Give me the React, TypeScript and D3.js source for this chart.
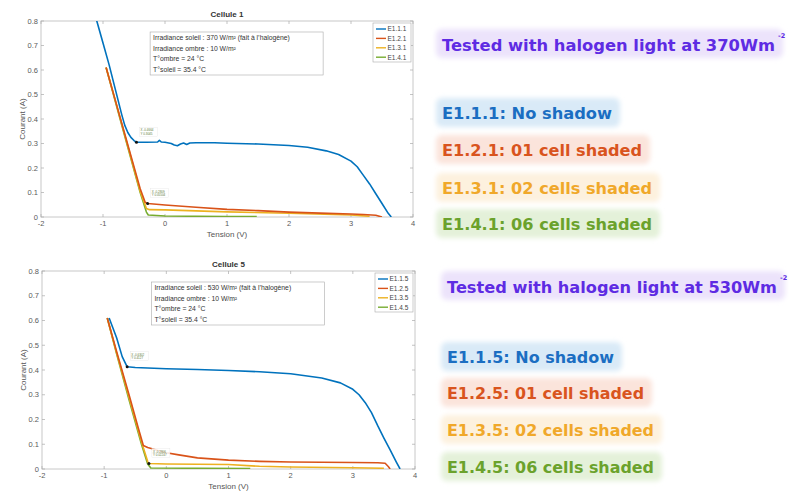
import React from 'react';
import * as d3 from 'd3';

// ---------- data ----------
const xTicks = [-2, -1, 0, 1, 2, 3, 4];
const yTicks = [0, 0.1, 0.2, 0.3, 0.4, 0.5, 0.6, 0.7, 0.8];

// Cellule 1
const c1BlueV = [-1.15, -1.1, -1.0, -0.9, -0.8, -0.7, -0.65, -0.6, -0.55, -0.5, -0.46, -0.3, -0.12, -0.09, -0.06, 0.0, 0.1, 0.15, 0.2, 0.25, 0.3, 0.35, 0.4, 0.5, 0.8, 1.0, 1.5, 2.0, 2.3, 2.6, 2.8, 3.0, 3.1, 3.2, 3.3, 3.4, 3.5, 3.6, 3.65];
const c1BlueI = [0.86, 0.8, 0.71, 0.62, 0.52, 0.42, 0.375, 0.345, 0.325, 0.312, 0.305, 0.305, 0.306, 0.313, 0.306, 0.305, 0.3, 0.294, 0.291, 0.298, 0.302, 0.296, 0.302, 0.303, 0.303, 0.301, 0.298, 0.292, 0.285, 0.27, 0.255, 0.228, 0.205, 0.17, 0.135, 0.095, 0.055, 0.015, 0.0];
const c1OrangeV = [-0.95, -0.8, -0.6, -0.4, -0.32, -0.28, 0.0, 0.5, 1.0, 1.5, 2.0, 2.5, 3.0, 3.2, 3.4, 3.5];
const c1OrangeI = [0.61, 0.475, 0.295, 0.115, 0.06, 0.055, 0.049, 0.04, 0.031, 0.026, 0.02, 0.016, 0.012, 0.01, 0.007, 0.0];
const c1YellowV = [-0.95, -0.8, -0.6, -0.4, -0.3, -0.25, 0.0, 1.0, 2.0, 3.0, 3.3];
const c1YellowI = [0.61, 0.475, 0.29, 0.105, 0.035, 0.03, 0.029, 0.021, 0.015, 0.008, 0.003];
const c1GreenV = [-0.95, -0.8, -0.6, -0.4, -0.3, -0.27, 0.0, 1.0, 1.48];
const c1GreenI = [0.61, 0.47, 0.285, 0.1, 0.02, 0.008, 0.004, 0.002, 0.002];

// Cellule 5
const c5BlueV = [-0.92, -0.8, -0.71, -0.63, -0.5, 0.0, 0.5, 1.0, 1.5, 2.0, 2.5, 2.8, 3.0, 3.1, 3.2, 3.3, 3.4, 3.5, 3.6, 3.7, 3.76];
const c5BlueI = [0.61, 0.53, 0.454, 0.413, 0.41, 0.405, 0.402, 0.398, 0.393, 0.385, 0.368, 0.348, 0.322, 0.3, 0.268, 0.228, 0.175, 0.125, 0.077, 0.028, 0.0];
const c5OrangeV = [-0.95, -0.8, -0.6, -0.45, -0.37, -0.3, -0.2, -0.1, 0.0, 0.2, 0.5, 1.0, 1.5, 2.0, 2.5, 3.0, 3.4, 3.52, 3.57, 3.6];
const c5OrangeI = [0.61, 0.475, 0.3, 0.165, 0.095, 0.087, 0.08, 0.072, 0.066, 0.057, 0.045, 0.036, 0.031, 0.028, 0.027, 0.026, 0.025, 0.023, 0.01, 0.0];
const c5YellowV = [-0.95, -0.8, -0.6, -0.4, -0.3, -0.28, 0.0, 1.0, 1.5, 2.0, 3.0, 3.5];
const c5YellowI = [0.61, 0.47, 0.29, 0.11, 0.03, 0.022, 0.02, 0.018, 0.011, 0.008, 0.005, 0.003];
const c5GreenV = [-0.95, -0.8, -0.6, -0.4, -0.3, -0.25, 0.5, 1.35];
const c5GreenI = [0.61, 0.465, 0.28, 0.1, 0.02, 0.004, 0.003, 0.002];

const legend1 = ['E1.1.1', 'E1.2.1', 'E1.3.1', 'E1.4.1'];
const legend5 = ['E1.1.5', 'E1.2.5', 'E1.3.5', 'E1.4.5'];
const info1 = ['Irradiance soleil : 370 W/m²  (fait à l\u2019halogène)', 'Irradiance ombre : 10 W/m²', 'T°ombre = 24 °C', 'T°soleil = 35.4 °C'];
const info5 = ['Irradiance soleil : 530 W/m²  (fait à l\u2019halogène)', 'Irradiance ombre : 10 W/m²', 'T°ombre = 24 °C', 'T°soleil = 35.4 °C'];
const tips1 = [{ v: -0.46, i: 0.305, t: ['X -0.4664', 'Y 0.3045'] }, { v: -0.28, i: 0.055, t: ['X -0.2809', 'Y 0.05504'] }];
const tips5 = [{ v: -0.63, i: 0.413, t: ['X -0.6302', 'Y 0.4127'] }, { v: -0.28, i: 0.022, t: ['X -0.2806', 'Y 0.02247'] }];

const notes1Title = 'Tested with halogen light at 370Wm';
const notes5Title = 'Tested with halogen light at 530Wm';
const notes1 = ['E1.1.1: No shadow', 'E1.2.1: 01 cell shaded', 'E1.3.1: 02 cells shaded', 'E1.4.1: 06 cells shaded'];
const notes5 = ['E1.1.5: No shadow', 'E1.2.5: 01 cell shaded', 'E1.3.5: 02 cells shaded', 'E1.4.5: 06 cells shaded'];

const lineColors = ['#0072BD', '#D95319', '#EDB120', '#77AC30'];
const noteColors = ['#1b6ec2', '#d9541e', '#f0a82a', '#6ba22c'];
const noteBg = ['#d9eaf7', '#fbe4db', '#fdf1de', '#e4f1d9'];

const axisFont = "'Liberation Sans', Arial, Helvetica, sans-serif";
const noteFont = "'DejaVu Sans', Verdana, sans-serif";

type Series = { v: number[]; i: number[] };

function Panel(props: {
  x0: number; x1: number; yTop: number; yBot: number;
  title: string; series: Series[]; legend: string[]; info: string[];
  tips: { v: number; i: number; t: string[] }[];
  clipId: string;
}) {
  const { x0, x1, yTop, yBot, title, series, legend, info, tips, clipId } = props;
  const x = d3.scaleLinear().domain([-2, 4]).range([x0, x1]);
  const y = d3.scaleLinear().domain([0, 0.8]).range([yBot, yTop]);
  const line = d3.line<[number, number]>().x(d => x(d[0])).y(d => y(d[1]));
  const cx = (x0 + x1) / 2;
  const boxX = x(-0.24);
  const boxY = yTop + 11;
  const legX = x1 - 40;
  return (
    <g>
      <defs>
        <clipPath id={clipId}><rect x={x0} y={yTop} width={x1 - x0} height={yBot - yTop} /></clipPath>
      </defs>
      <rect x={x0} y={yTop} width={x1 - x0} height={yBot - yTop} fill="#fff" stroke="#c8c8c8" strokeWidth={1} />
      {xTicks.map(t => (
        <g key={'x' + t}>
          <line x1={x(t)} x2={x(t)} y1={yBot} y2={yBot - 3} stroke="#aaa" strokeWidth={0.7} />
          <line x1={x(t)} x2={x(t)} y1={yTop} y2={yTop + 3} stroke="#aaa" strokeWidth={0.7} />
          <text x={x(t)} y={yBot + 9} fontSize={7.5} fontFamily={axisFont} fill="#5a5a5a" textAnchor="middle">{t}</text>
        </g>
      ))}
      {yTicks.map(t => (
        <g key={'y' + t}>
          <line x1={x0} x2={x0 + 3} y1={y(t)} y2={y(t)} stroke="#aaa" strokeWidth={0.7} />
          <line x1={x1} x2={x1 - 3} y1={y(t)} y2={y(t)} stroke="#aaa" strokeWidth={0.7} />
          <text x={x0 - 3} y={y(t) + 2.6} fontSize={7.5} fontFamily={axisFont} fill="#5a5a5a" textAnchor="end">{t === 0 ? '0' : t.toFixed(1)}</text>
        </g>
      ))}
      <text x={cx} y={yTop - 4} fontSize={8} fontWeight="bold" fontFamily={axisFont} fill="#333" textAnchor="middle">{title}</text>
      <text x={cx} y={yBot + 20} fontSize={8} fontFamily={axisFont} fill="#555" textAnchor="middle">Tension (V)</text>
      <text transform={`translate(${x0 - 16},${(yTop + yBot) / 2}) rotate(-90)`} fontSize={8} fontFamily={axisFont} fill="#555" textAnchor="middle">Courant (A)</text>
      <g clipPath={`url(#${clipId})`}>
        {series.map((s, k) => (
          <path key={k} d={line(s.v.map((v, j) => [v, s.i[j]] as [number, number])) || ''} fill="none" stroke={lineColors[k]} strokeWidth={1.6} strokeLinejoin="round" />
        )).reverse()}
      </g>
      {tips.map((tp, k) => (
        <g key={'tip' + k}>
          <circle cx={x(tp.v)} cy={y(tp.i)} r={1.5} fill="#111" />
          <rect x={x(tp.v) + 3} y={y(tp.i) - 15} width={18} height={9} fill="#fff" fillOpacity={0.85} stroke="#ddd" strokeWidth={0.3} />
          <text x={x(tp.v) + 4} y={y(tp.i) - 11} fontSize={3} fontFamily={axisFont} fill="#5d7a3a">{tp.t[0]}</text>
          <text x={x(tp.v) + 4} y={y(tp.i) - 7.5} fontSize={3} fontFamily={axisFont} fill="#5d7a3a">{tp.t[1]}</text>
        </g>
      ))}
      <rect x={boxX} y={boxY} width={173} height={43} fill="#fff" stroke="#aaa" strokeWidth={0.6} />
      {info.map((s, k) => (
        <text key={'inf' + k} x={boxX + 3} y={boxY + 8 + k * 10.6} fontSize={6.8} fontFamily={axisFont} fill="#333">{s}</text>
      ))}
      <rect x={legX} y={yTop + 2} width={38} height={39} fill="#fff" stroke="#aaa" strokeWidth={0.6} />
      {legend.map((s, k) => (
        <g key={'leg' + k}>
          <line x1={legX + 3} x2={legX + 13} y1={yTop + 8 + k * 9.4} y2={yTop + 8 + k * 9.4} stroke={lineColors[k]} strokeWidth={1.4} />
          <text x={legX + 14.5} y={yTop + 10.3 + k * 9.4} fontSize={6.5} fontFamily={axisFont} fill="#444">{s}</text>
        </g>
      ))}
    </g>
  );
}

function Notes(props: { title: string; titleY: number; titleX: number; titleW: number; lines: string[]; ys: number[]; xs: number; widths: number[] }) {
  const { title, titleY, titleX, titleW, lines, ys, xs, widths } = props;
  return (
    <g>
      <rect x={titleX - 6} y={titleY - 22} width={titleW + 14} height={29} rx={6} fill="#ece3fb" filter="url(#soft)" />
      <text x={titleX} y={titleY} fontSize={16.2} fontWeight="bold" fontFamily={noteFont} fill="#5e2be3" textLength={titleW} lengthAdjust="spacingAndGlyphs">{title}</text>
      <text x={titleX + titleW + 3} y={titleY - 13} fontSize={6.5} fontWeight="bold" fontFamily={noteFont} fill="#5e2be3">-2</text>
      {lines.map((s, k) => (
        <g key={k}>
          <rect x={xs - 6} y={ys[k] - 21} width={widths[k] + 14} height={29} rx={6} fill={noteBg[k]} filter="url(#soft)" />
          <text x={xs} y={ys[k]} fontSize={16} fontWeight="bold" fontFamily={noteFont} fill={noteColors[k]} textLength={widths[k]} lengthAdjust="spacingAndGlyphs">{s}</text>
        </g>
      ))}
    </g>
  );
}

export default function App() {
  const s1: Series[] = [
    { v: c1BlueV, i: c1BlueI }, { v: c1OrangeV, i: c1OrangeI }, { v: c1YellowV, i: c1YellowI }, { v: c1GreenV, i: c1GreenI },
  ];
  const s5: Series[] = [
    { v: c5BlueV, i: c5BlueI }, { v: c5OrangeV, i: c5OrangeI }, { v: c5YellowV, i: c5YellowI }, { v: c5GreenV, i: c5GreenI },
  ];
  return (
    <svg width={789} height={495} style={{ position: 'fixed', left: 0, top: 0, background: '#fff' }}>
      <defs>
        <filter id="soft" x="-10%" y="-40%" width="120%" height="180%">
          <feGaussianBlur stdDeviation={2.5} />
        </filter>
      </defs>
      <rect x={0} y={0} width={789} height={495} fill="#fff" />
      <Panel x0={41} x1={413} yTop={21} yBot={217} title="Cellule 1" series={s1} legend={legend1} info={info1} tips={tips1} clipId="c1" />
      <Panel x0={42} x1={415} yTop={271} yBot={469} title="Cellule 5" series={s5} legend={legend5} info={info5} tips={tips5} clipId="c5" />
      <Notes title={notes1Title} titleY={51} titleX={442} titleW={333} lines={notes1} ys={[119, 156, 194, 230]} xs={442} widths={[170, 200, 210, 210]} />
      <Notes title={notes5Title} titleY={293} titleX={447} titleW={330} lines={notes5} ys={[363, 399, 436, 473]} xs={447} widths={[167, 197, 207, 207]} />
    </svg>
  );
}
